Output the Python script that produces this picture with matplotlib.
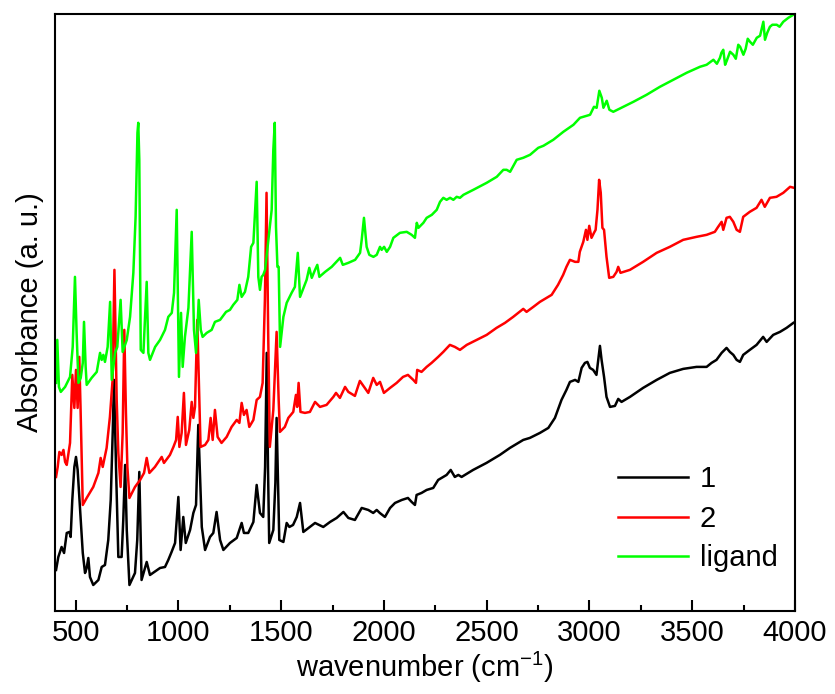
import numpy as np
import matplotlib
matplotlib.use('Agg')
import matplotlib.pyplot as plt
from matplotlib.ticker import MultipleLocator

plt.rcParams['font.family'] = ['Liberation Sans', 'DejaVu Sans']

# spectrum of compound 1 (black)
wn_1 = [405, 416, 432, 444, 457, 470, 476, 484, 494, 502, 510, 518, 535, 546, 554, 562, 570, 586,
        611, 627, 643, 659, 671, 681, 687, 697, 708, 724, 732, 741, 749, 762, 789, 800, 810, 821,
        846, 862, 911, 935, 951, 967, 984, 1000, 1011, 1024, 1036, 1057, 1073, 1086, 1097, 1114,
        1130, 1154, 1170, 1186, 1203, 1219, 1251, 1284, 1308, 1319, 1340, 1365, 1381, 1397, 1413,
        1422, 1430, 1436, 1442, 1462, 1472, 1478, 1485, 1491, 1511, 1527, 1540, 1558, 1576, 1592,
        1608, 1640, 1665, 1705, 1738, 1770, 1803, 1827, 1859, 1892, 1924, 1948, 1965, 1980, 2005,
        2030, 2054, 2087, 2117, 2135, 2151, 2159, 2183, 2208, 2240, 2264, 2305, 2325, 2345, 2362,
        2378, 2434, 2499, 2564, 2613, 2678, 2710, 2759, 2800, 2832, 2864, 2888, 2905, 2930, 2946,
        2962, 2978, 2990, 3002, 3018, 3034, 3043, 3051, 3059, 3071, 3083, 3100, 3124, 3140, 3156,
        3197, 3261, 3327, 3391, 3456, 3521, 3570, 3594, 3618, 3643, 3667, 3683, 3700, 3716, 3732,
        3748, 3780, 3813, 3845, 3862, 3894, 3927, 3959, 3992]
abs_1 = [0.41, 0.54, 0.64, 0.58, 0.78, 0.79, 0.74, 1.11, 1.44, 1.54, 1.41, 1.14, 0.58, 0.38, 0.43,
         0.53, 0.34, 0.26, 0.31, 0.44, 0.46, 0.71, 1.11, 1.81, 2.31, 1.41, 0.54, 0.54, 0.91, 1.46,
         0.81, 0.26, 0.38, 0.71, 1.39, 0.31, 0.49, 0.36, 0.43, 0.44, 0.51, 0.59, 0.68, 1.14, 0.61,
         0.94, 0.68, 0.81, 0.98, 1.06, 1.86, 0.84, 0.61, 0.74, 0.78, 0.99, 0.71, 0.61, 0.68, 0.73,
         0.88, 0.78, 0.78, 0.89, 1.26, 0.98, 0.94, 1.44, 2.58, 1.44, 0.68, 0.81, 1.28, 1.93, 1.28,
         0.71, 0.69, 0.88, 0.84, 0.86, 0.94, 1.08, 0.79, 0.84, 0.88, 0.84, 0.89, 0.93, 0.99, 0.93,
         0.91, 1.03, 1.01, 0.98, 1.01, 0.98, 0.94, 1.03, 1.08, 1.11, 1.13, 1.09, 1.06, 1.16, 1.18,
         1.21, 1.23, 1.31, 1.36, 1.41, 1.34, 1.36, 1.34, 1.41, 1.48, 1.56, 1.63, 1.71, 1.73, 1.78,
         1.83, 1.93, 2.11, 2.21, 2.29, 2.31, 2.29, 2.43, 2.48, 2.49, 2.43, 2.41, 2.36, 2.51, 2.65,
         2.51, 2.34, 2.14, 2.04, 2.05, 2.12, 2.09, 2.14, 2.23, 2.31, 2.38, 2.42, 2.44, 2.44, 2.48,
         2.51, 2.58, 2.63, 2.59, 2.56, 2.51, 2.49, 2.56, 2.61, 2.66, 2.74, 2.69, 2.76, 2.79, 2.83,
         2.88]

# spectrum of compound 2 (red)
wn_2 = [405, 413, 421, 432, 441, 449, 457, 473, 484, 494, 502, 510, 518, 524, 535, 554, 586, 611,
        622, 632, 651, 667, 680, 689, 700, 708, 719, 729, 737, 745, 752, 762, 789, 814, 833, 846,
        859, 886, 919, 930, 959, 976, 989, 997, 1005, 1016, 1027, 1037, 1053, 1065, 1073, 1081,
        1092, 1102, 1108, 1130, 1146, 1157, 1167, 1178, 1191, 1210, 1235, 1259, 1284, 1297, 1308,
        1319, 1332, 1345, 1365, 1381, 1397, 1410, 1421, 1429, 1437, 1445, 1462, 1471, 1478, 1488,
        1494, 1518, 1535, 1559, 1572, 1578, 1585, 1594, 1616, 1640, 1665, 1689, 1721, 1754, 1767,
        1786, 1811, 1827, 1859, 1883, 1924, 1948, 1965, 1981, 2000, 2030, 2062, 2093, 2117, 2143,
        2156, 2162, 2183, 2208, 2232, 2264, 2289, 2321, 2345, 2370, 2403, 2451, 2500, 2548, 2589,
        2629, 2678, 2694, 2727, 2759, 2816, 2847, 2872, 2888, 2905, 2930, 2946, 2953, 2970, 2983,
        2990, 2999, 3010, 3022, 3030, 3039, 3047, 3055, 3063, 3071, 3083, 3096, 3116, 3132, 3140,
        3151, 3197, 3261, 3327, 3391, 3456, 3521, 3570, 3610, 3626, 3643, 3651, 3667, 3683, 3700,
        3716, 3732, 3748, 3780, 3813, 3837, 3853, 3878, 3910, 3943, 3976, 3995]
abs_2 = [1.34, 1.44, 1.59, 1.56, 1.61, 1.49, 1.46, 1.68, 2.36, 2.03, 2.41, 2.03, 2.54, 2.04, 1.06,
         1.13, 1.24, 1.38, 1.53, 1.44, 1.63, 1.94, 2.31, 3.41, 2.11, 1.58, 1.24, 1.78, 2.81, 1.98,
         1.44, 1.13, 1.24, 1.31, 1.38, 1.53, 1.38, 1.44, 1.54, 1.48, 1.56, 1.64, 1.71, 1.94, 1.64,
         1.78, 2.18, 1.66, 1.81, 2.09, 1.93, 2.04, 2.91, 2.11, 1.64, 1.66, 1.71, 1.93, 1.71, 2.01,
         1.74, 1.68, 1.74, 1.84, 1.91, 1.88, 2.08, 1.96, 2.01, 1.84, 1.91, 2.11, 2.14, 2.28, 3.11,
         4.18, 2.78, 1.64, 2.01, 2.44, 2.79, 2.11, 1.79, 1.84, 1.93, 1.99, 2.16, 2.04, 2.28, 1.99,
         1.98, 1.99, 2.09, 2.04, 2.06, 2.14, 2.18, 2.13, 2.24, 2.19, 2.15, 2.30, 2.18, 2.33, 2.26,
         2.29, 2.18, 2.23, 2.28, 2.34, 2.36, 2.31, 2.28, 2.41, 2.39, 2.44, 2.48, 2.54, 2.59, 2.66,
         2.64, 2.61, 2.66, 2.71, 2.76, 2.83, 2.88, 2.94, 3.02, 2.99, 3.04, 3.09, 3.16, 3.26, 3.36,
         3.44, 3.51, 3.49, 3.49, 3.59, 3.69, 3.81, 3.71, 3.85, 3.73, 3.78, 3.81, 4.01, 4.31, 4.18,
         3.83, 3.81, 3.54, 3.33, 3.34, 3.39, 3.44, 3.38, 3.41, 3.49, 3.58, 3.64, 3.71, 3.74, 3.76,
         3.79, 3.84, 3.89, 3.81, 3.93, 3.94, 3.89, 3.81, 3.79, 3.94, 3.99, 4.03, 4.11, 4.04, 4.13,
         4.14, 4.18, 4.24, 4.23]

# ligand spectrum (green)
wn_L = [405, 411, 419, 428, 449, 473, 486, 497, 505, 514, 525, 535, 541, 549, 554, 578, 603, 619,
        627, 635, 643, 656, 668, 676, 692, 703, 719, 729, 749, 765, 781, 792, 801, 805, 810, 817,
        830, 838, 846, 854, 862, 887, 911, 935, 951, 968, 979, 992, 1003, 1013, 1021, 1032, 1049,
        1065, 1076, 1086, 1092, 1099, 1109, 1118, 1138, 1162, 1178, 1203, 1232, 1251, 1267, 1287,
        1297, 1308, 1324, 1340, 1354, 1365, 1381, 1389, 1397, 1405, 1413, 1422, 1438, 1454, 1462,
        1469, 1475, 1482, 1488, 1495, 1511, 1527, 1551, 1567, 1581, 1592, 1624, 1637, 1649, 1665,
        1676, 1686, 1714, 1746, 1778, 1787, 1800, 1827, 1860, 1884, 1892, 1903, 1916, 1929, 1949,
        1965, 1981, 1989, 2001, 2014, 2030, 2046, 2078, 2111, 2135, 2151, 2160, 2168, 2192, 2208,
        2233, 2257, 2273, 2289, 2305, 2322, 2338, 2354, 2370, 2387, 2435, 2500, 2549, 2581, 2597,
        2614, 2646, 2678, 2711, 2751, 2776, 2824, 2873, 2922, 2954, 3003, 3022, 3035, 3048, 3060,
        3068, 3084, 3097, 3116, 3165, 3214, 3278, 3343, 3408, 3473, 3538, 3570, 3603, 3620, 3635,
        3642, 3651, 3660, 3668, 3684, 3700, 3712, 3724, 3733, 3749, 3760, 3770, 3781, 3795, 3814,
        3830, 3846, 3854, 3865, 3878, 3890, 3911, 3925, 3943, 3968, 3992]
abs_L = [2.28, 2.71, 2.24, 2.19, 2.24, 2.34, 2.64, 3.34, 2.78, 2.28, 2.33, 2.48, 2.89, 2.44, 2.26,
         2.33, 2.39, 2.58, 2.51, 2.56, 2.49, 2.64, 3.09, 2.31, 2.58, 2.64, 3.11, 2.59, 2.71, 2.94,
         3.38, 3.94, 4.78, 4.88, 4.51, 2.61, 2.58, 2.94, 3.29, 2.58, 2.51, 2.64, 2.71, 2.81, 2.94,
         2.98, 3.18, 4.01, 2.34, 2.98, 2.44, 2.74, 3.03, 3.79, 2.81, 2.58, 2.78, 3.11, 2.81, 2.74,
         2.78, 2.81, 2.89, 2.91, 2.99, 3.01, 3.06, 3.11, 3.26, 3.14, 3.19, 3.34, 3.64, 3.68, 4.29,
         3.34, 3.21, 3.34, 3.36, 3.41, 3.71, 4.01, 4.61, 4.88, 3.84, 3.44, 3.44, 2.64, 2.94, 3.08,
         3.18, 3.24, 3.58, 3.14, 3.31, 3.43, 3.33, 3.41, 3.46, 3.34, 3.39, 3.44, 3.51, 3.53, 3.46,
         3.48, 3.51, 3.58, 3.71, 3.93, 3.64, 3.56, 3.54, 3.56, 3.64, 3.61, 3.64, 3.59, 3.64, 3.73,
         3.78, 3.79, 3.76, 3.73, 3.88, 3.83, 3.88, 3.93, 3.96, 4.01, 4.09, 4.13, 4.11, 4.13, 4.11,
         4.14, 4.13, 4.16, 4.21, 4.28, 4.34, 4.41, 4.41, 4.39, 4.51, 4.53, 4.56, 4.63, 4.65, 4.71,
         4.79, 4.86, 4.93, 4.96, 5.04, 5.03, 5.20, 5.13, 5.03, 5.10, 5.01, 4.99, 5.04, 5.09, 5.16,
         5.24, 5.31, 5.38, 5.44, 5.46, 5.51, 5.47, 5.53, 5.58, 5.61, 5.46, 5.50, 5.59, 5.56, 5.52,
         5.66, 5.64, 5.56, 5.62, 5.72, 5.69, 5.66, 5.73, 5.75, 5.89, 5.71, 5.78, 5.84, 5.86, 5.86,
         5.84, 5.89, 5.93, 5.96]

labels = ['1', '2', 'ligand']
colors = ['black', '#ff0000', '#00ff00']

fig = plt.figure(figsize=(8.35, 6.94), dpi=100)
ax = fig.add_axes([0.0659, 0.1196, 0.8862, 0.8606])

for wn, a, lab, c in zip([wn_1, wn_2, wn_L], [abs_1, abs_2, abs_L], labels, colors):
    ax.plot(wn, a, color=c, lw=1.8, label=lab)

ax.set_xlim(400, 4000)
ax.set_ylim(0, 5.97)
ax.xaxis.set_major_locator(MultipleLocator(500))
ax.xaxis.set_minor_locator(MultipleLocator(250))
ax.set_yticks([])
ax.tick_params(axis='x', which='major', direction='in', length=8, width=1.5, labelsize=21, pad=6)
ax.tick_params(axis='x', which='minor', direction='in', length=4, width=1.5)
for s in ax.spines.values():
    s.set_linewidth(1.5)

ax.set_xlabel('wavenumber (cm$^{\\mathregular{-1}}$)', fontsize=21, labelpad=2)
ax.set_ylabel('Absorbance (a. u.)', fontsize=21, labelpad=8)

ax.legend(loc='lower left', bbox_to_anchor=(0.745, 0.045), frameon=False, fontsize=21,
          handlelength=2.4, handletextpad=0.4, labelspacing=0.4, borderaxespad=0)

fig.savefig('out.png', dpi=100)
